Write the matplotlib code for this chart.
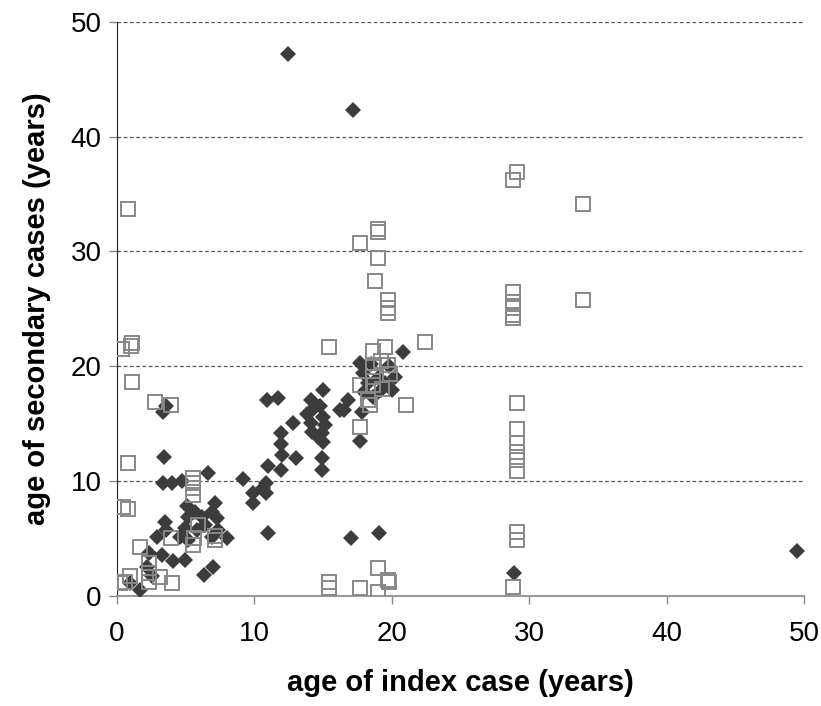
"""Scatter of secondary-case age against index-case age."""

import matplotlib
matplotlib.use("Agg")
import matplotlib.pyplot as plt

# filled diamonds
diamond_x = [12.45, 17.2, 49.5, 28.9, 19.1, 17.0, 11.0,
             3.35, 3.6, 3.4, 3.35, 4.0, 4.7, 6.6, 9.2, 9.9, 9.9, 10.85, 10.85, 11.0, 10.9, 11.7,
             7.1, 6.9, 5.1, 5.2, 5.7, 6.2, 7.3, 6.4, 5.8, 4.95, 4.6, 5.2, 3.5, 3.6, 2.9, 8.0,
             7.35, 6.9, 2.3, 3.3, 4.1, 4.95, 6.3, 7.0, 1.7, 0.95, 2.55, 2.2,
             14.1, 15.0, 14.2, 14.8, 13.8, 15.0, 12.8, 14.1, 15.15, 14.2, 14.9, 14.6, 15.0,
             11.9, 11.9, 12.0, 13.0, 11.9, 14.9, 14.9, 10.6,
             20.8, 17.7, 17.9, 20.2, 20.0, 16.8, 16.5, 17.8, 17.7, 19.2, 18.6, 18.3, 19.0,
             19.5, 18.0, 19.8, 18.5, 16.2]
diamond_y = [47.2, 42.3, 3.9, 2.0, 5.5, 5.05, 5.5,
             16.0, 16.5, 12.1, 9.85, 9.85, 10.0, 10.7, 10.2, 9.0, 8.1, 9.8, 9.0, 11.3, 17.1, 17.2,
             8.1, 7.3, 7.8, 6.9, 7.3, 6.9, 6.8, 6.2, 5.7, 5.9, 5.1, 4.9, 6.4, 5.7, 5.1, 5.05,
             5.7, 5.1, 3.7, 3.6, 3.0, 3.1, 1.8, 2.5, 0.5, 1.1, 1.7, 2.5,
             17.1, 17.9, 16.2, 16.5, 15.8, 15.6, 15.1, 15.1, 14.9, 14.3, 14.2, 13.8, 13.4,
             14.2, 13.2, 12.3, 12.0, 11.0, 12.0, 11.0, 9.4,
             21.2, 20.3, 19.4, 19.1, 17.9, 17.1, 16.2, 16.0, 13.5, 17.9, 17.3, 18.5, 19.0,
             18.5, 17.8, 20.0, 20.2, 16.2]

# open squares
square_x = [0.8, 1.1, 1.0, 0.35, 1.1, 2.8, 3.9, 0.8, 0.45, 0.8, 5.5, 5.5, 5.5, 5.5, 5.9,
            7.1, 7.1, 5.5, 3.9, 1.7, 2.3, 2.3, 2.3, 4.0, 3.1, 0.6, 0.95, 0.2, 5.6,
            17.7, 19.0, 19.0, 19.0, 18.8, 19.7, 19.7, 19.7, 15.4, 22.4, 21.0, 17.7,
            15.4, 15.4, 17.7, 19.0, 19.7, 19.8, 19.0,
            19.5, 18.6, 19.7, 19.9, 18.6, 18.6, 18.6, 17.7, 18.3, 18.4, 19.2, 19.3,
            29.1, 28.85, 33.9, 33.9, 28.85, 28.85, 28.85, 28.85, 28.85,
            29.1, 29.1, 29.1, 29.1, 29.1, 29.1, 29.1, 29.1, 28.85]
square_y = [33.7, 22.0, 21.8, 21.5, 18.6, 16.9, 16.6, 11.6, 7.7, 7.6, 10.3, 9.8, 9.4, 8.8, 6.2,
            5.2, 4.9, 4.4, 5.0, 4.3, 2.9, 2.0, 1.2, 1.1, 1.6, 1.2, 1.7, 1.1, 5.0,
            30.7, 31.7, 32.0, 29.4, 27.4, 25.8, 25.1, 24.6, 21.7, 22.1, 16.6, 14.7,
            1.2, 0.7, 0.7, 2.4, 1.4, 1.2, 0.3,
            21.7, 21.3, 20.1, 19.3, 19.9, 19.1, 18.4, 18.4, 17.1, 16.6, 20.5, 18.0,
            36.9, 36.2, 34.1, 25.8, 26.5, 25.6, 25.1, 24.5, 24.2,
            16.8, 14.5, 13.3, 12.5, 11.8, 10.9, 5.6, 4.9, 0.8]

ticks = [0, 10, 20, 30, 40, 50]

plt.rcParams["font.family"] = ["Liberation Sans", "DejaVu Sans"]

fig = plt.figure(figsize=(8.21, 7.06), dpi=100)
ax = fig.add_axes([0.1425, 0.156, 0.837, 0.813])

ax.plot(diamond_x, diamond_y, linestyle="none", marker="D", markersize=8,
        color="#3c3c3c", markeredgewidth=0, zorder=3)
ax.plot(square_x, square_y, linestyle="none", marker="s", markersize=9.4,
        markerfacecolor="none", markeredgecolor="#888888", markeredgewidth=1.4, zorder=4)

ax.set_xlim(0, 50)
ax.set_ylim(0, 50)
ax.set_xticks(ticks)
ax.set_yticks(ticks)
ax.tick_params(labelsize=20, length=6, width=1, colors="#888888", labelcolor="black")
ax.tick_params(axis="x", pad=12)
ax.tick_params(axis="y", pad=5)

for val in ticks[1:]:
    ax.axhline(val, color="#555555", linestyle=(0, (3, 2)), linewidth=0.9, zorder=1)

for side in ["top", "right"]:
    ax.spines[side].set_visible(False)
ax.spines["left"].set_color("#222222")
ax.spines["bottom"].set_color("#999999")
ax.spines["bottom"].set_linewidth(1.5)

ax.set_xlabel("age of index case (years)", fontsize=21, fontweight="bold", labelpad=16)
ax.set_ylabel("age of secondary cases (years)", fontsize=21, fontweight="bold", labelpad=14)

fig.savefig("out.png", dpi=100)
